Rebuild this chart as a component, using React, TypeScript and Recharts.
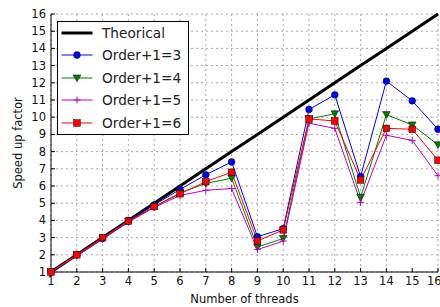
import { LineChart, Line, XAxis, YAxis, CartesianGrid, Legend } from "recharts";

const threads = [1, 2, 3, 4, 5, 6, 7, 8, 9, 10, 11, 12, 13, 14, 15, 16];
const theory = [1, 2, 3, 4, 5, 6, 7, 8, 9, 10, 11, 12, 13, 14, 15, 16];
const order3 = [1, 2, 2.95, 4, 4.9, 5.8, 6.65, 7.4, 3.05, 3.52, 10.45, 11.3, 6.55, 12.1, 10.95, 9.3];
const order4 = [1, 2, 2.95, 3.95, 4.8, 5.6, 6.15, 6.45, 2.45, 2.95, 9.9, 10.2, 5.35, 10.15, 9.55, 8.4];
const order5 = [1, 1.95, 2.9, 3.9, 4.75, 5.45, 5.75, 5.85, 2.3, 2.8, 9.65, 9.35, 5.05, 8.95, 8.65, 6.6];
const order6 = [1, 2, 3, 3.95, 4.8, 5.55, 6.25, 6.8, 2.8, 3.45, 9.9, 9.78, 6.35, 9.35, 9.3, 7.5];
const ticks = [1, 2, 3, 4, 5, 6, 7, 8, 9, 10, 11, 12, 13, 14, 15, 16];

const data = threads.map((t, i) => ({
  t, theory: theory[i], o3: order3[i], o4: order4[i], o5: order5[i], o6: order6[i],
}));

const FONT = "'DejaVu Sans', sans-serif";

type Shape = "circle" | "tri" | "plus" | "square";

function Marker({ cx, cy, shape, color }: { cx: number; cy: number; shape: Shape; color: string }) {
  if (shape === "circle") return <circle cx={cx} cy={cy} r={3.4} fill={color} stroke="#000" strokeWidth={0.5} />;
  if (shape === "square") return <rect x={cx - 3.3} y={cy - 3.3} width={6.6} height={6.6} fill={color} stroke="#000" strokeWidth={0.5} />;
  if (shape === "tri")
    return <polygon points={`${cx - 3.8},${cy - 3} ${cx + 3.8},${cy - 3} ${cx},${cy + 3.8}`} fill={color} stroke="#000" strokeWidth={0.5} />;
  return (
    <g stroke={color} strokeWidth={1}>
      <line x1={cx - 3.5} y1={cy} x2={cx + 3.5} y2={cy} />
      <line x1={cx} y1={cy - 3.5} x2={cx} y2={cy + 3.5} />
    </g>
  );
}

const series = [
  { key: "o3", name: "Order+1=3", color: "#0000ff", shape: "circle" as Shape },
  { key: "o4", name: "Order+1=4", color: "#008000", shape: "tri" as Shape },
  { key: "o5", name: "Order+1=5", color: "#bf00bf", shape: "plus" as Shape },
  { key: "o6", name: "Order+1=6", color: "#ff0000", shape: "square" as Shape },
];

function LegendBox() {
  const rows = [{ name: "Theorical", color: "#000", shape: null as Shape | null }, ...series];
  return (
    <div style={{ width: 130, height: 112, background: "#fff", border: "1px solid #000", fontFamily: FONT, fontSize: 13.7, color: "#222" }}>
      {rows.map((r, i) => (
        <div key={r.name} style={{ position: "absolute", left: 0, top: 1 + i * 22.4, height: 22, display: "flex", alignItems: "center" }}>
          <svg width={42} height={22} style={{ display: "block" }}>
            <line x1={4.5} y1={11} x2={35.5} y2={11} stroke={r.color} strokeWidth={r.shape ? 1 : 3} />
            {r.shape && <Marker cx={20} cy={11} shape={r.shape} color={r.color} />}
          </svg>
          <span style={{ marginLeft: 3, whiteSpace: "nowrap" }}>{r.name}</span>
        </div>
      ))}
    </div>
  );
}

export default function App() {
  const tickStyle = { fontSize: 11.5, fill: "#111", fontFamily: FONT };
  return (
    <div style={{ position: "absolute", left: 0, top: 0, width: 440, height: 307, background: "#fff" }}>
      <LineChart width={440} height={307} data={data} margin={{ top: 14, right: 2, left: 0, bottom: 0 }}>
        <CartesianGrid stroke="#a8a8a8" strokeDasharray="2 3" />
        <XAxis
          dataKey="t" type="number" domain={[1, 16]} ticks={ticks} height={35}
          tick={tickStyle} tickSize={-4} tickMargin={9} stroke="#000"
          label={{ value: "Number of threads", position: "insideBottom", offset: 4, style: { fontSize: 11.5, fill: "#111", fontFamily: FONT } }}
        />
        <XAxis xAxisId="top" orientation="top" dataKey="t" type="number" domain={[1, 16]} ticks={ticks} height={0} tick={false} tickSize={-4} stroke="#000" />
        <YAxis
          type="number" domain={[1, 16]} ticks={ticks} width={51} interval={0}
          tick={tickStyle} tickSize={-4} tickMargin={9} stroke="#000"
          label={{
            content: ({ viewBox }: any) => {
              const cy = viewBox.y + viewBox.height / 2;
              return (
                <text x={18} y={cy} transform={`rotate(-90 18 ${cy})`} textAnchor="middle" dominantBaseline="central" fontSize={11.5} fill="#111" fontFamily={FONT}>
                  Speed up factor
                </text>
              );
            },
          }}
        />
        <YAxis yAxisId="right" orientation="right" type="number" domain={[1, 16]} ticks={ticks} width={0} tick={false} tickSize={-4} stroke="#000" />
        <Legend
          layout="vertical" verticalAlign="middle" align="center"
          wrapperStyle={{ position: "absolute", left: 57, top: 21, width: 132, height: 114 }}
          content={() => <LegendBox />}
        />
        <Line dataKey="theory" stroke="#000" strokeWidth={3} dot={false} isAnimationActive={false} />
        {series.map((s) => (
          <Line
            key={s.key} dataKey={s.key} name={s.name} stroke={s.color} strokeWidth={1}
            isAnimationActive={false}
            dot={(p: any) => <Marker key={p.index} cx={p.cx} cy={p.cy} shape={s.shape} color={s.color} />}
          />
        ))}
      </LineChart>
    </div>
  );
}
